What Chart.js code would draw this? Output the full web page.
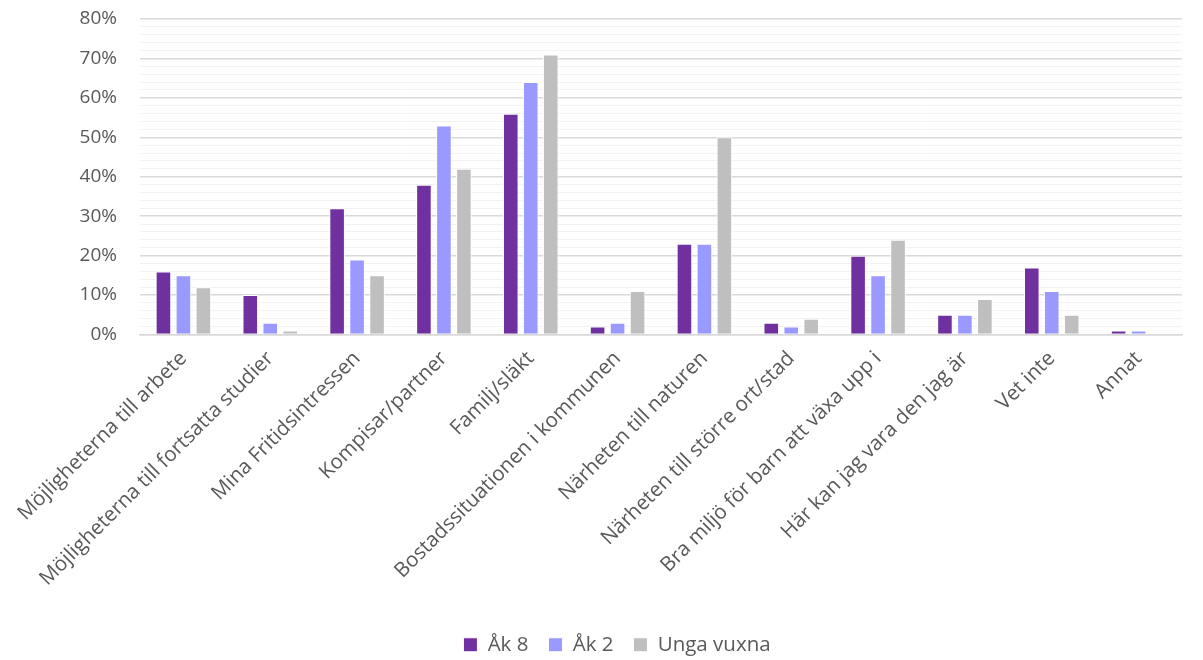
<!DOCTYPE html>
<html>
<head>
<meta charset="utf-8">
<script src="https://cdn.jsdelivr.net/npm/chart.js@4"></script>
<style>
    html, body { margin: 0; padding: 0; background: #fff; }
    #wrap { width: 1203px; height: 660px; position: relative; }
</style>
</head>
<body>
<div id="wrap"><canvas id="chart"></canvas></div>
<script>
// Categories (x axis)
const categories = [
    'Möjligheterna till arbete',
    'Möjligheterna till fortsatta studier',
    'Mina Fritidsintressen',
    'Kompisar/partner',
    'Familj/släkt',
    'Bostadssituationen i kommunen',
    'Närheten till naturen',
    'Närheten till större ort/stad',
    'Bra miljö för barn att växa upp i',
    'Här kan jag vara den jag är',
    'Vet inte',
    'Annat'
];

// Series values in percent
const ak8 = [16, 10, 32, 38, 56, 2, 23, 3, 20, 5, 17, 1];
const ak2 = [15, 3, 19, 53, 64, 3, 23, 2, 15, 5, 11, 1];
const ungaVuxna = [12, 1, 15, 42, 71, 11, 50, 4, 24, 9, 5, 0];

const seriesNames = ['Åk 8', 'Åk 2', 'Unga vuxna'];
const seriesColors = ['#7030A0', '#9999FF', '#BFBFBF'];

// Y axis: 0-80 %, labels every 10, minor gridlines every 2
const yMax = 80;
const yStep = 2;
const yLabelEvery = 10;

const FONT = '"Open Sans", sans-serif';
const TEXT_COLOR = '#595959';

function makeDataset(label, data, color) {
    return {
        label: label,
        data: data,
        backgroundColor: color,
        borderColor: '#ffffff',
        borderWidth: 1,
        categoryPercentage: 0.69,
        barPercentage: 0.78
    };
}

// nudge the legend a bit to the right, like the original
const legendShift = {
    id: 'legendShift',
    afterLayout(chart) {
        if (chart.legend) {
            chart.legend.left += 52;
        }
    }
};

const ctx = document.getElementById('chart').getContext('2d');
new Chart(ctx, {
    type: 'bar',
    data: {
        labels: categories,
        datasets: [
            makeDataset(seriesNames[0], ak8, seriesColors[0]),
            makeDataset(seriesNames[1], ak2, seriesColors[1]),
            makeDataset(seriesNames[2], ungaVuxna, seriesColors[2])
        ]
    },
    plugins: [legendShift],
    options: {
        responsive: true,
        maintainAspectRatio: false,
        animation: false,
        layout: {
            padding: { top: 0, right: 21, bottom: -5, left: 0 }
        },
        plugins: {
            legend: {
                position: 'bottom',
                labels: {
                    boxWidth: 14,
                    boxHeight: 14,
                    padding: 20,
                    color: TEXT_COLOR,
                    font: { family: FONT, size: 20.5 }
                }
            },
            tooltip: { enabled: false }
        },
        scales: {
            x: {
                grid: { display: false },
                border: { color: '#D9D9D9', width: 1.5 },
                afterFit: function(scale) {
                    scale.height = 280;
                },
                ticks: {
                    autoSkip: false,
                    minRotation: 45,
                    maxRotation: 45,
                    padding: 4,
                    color: TEXT_COLOR,
                    font: { family: FONT, size: 20.5 }
                }
            },
            y: {
                min: 0,
                max: yMax,
                border: { display: false },
                afterFit: function(scale) {
                    scale.width = 140;
                    scale.paddingTop = 19;
                    scale.paddingBottom = 11;
                },
                grid: {
                    drawTicks: false,
                    lineWidth: function(c) {
                        return c.tick && c.tick.value % yLabelEvery === 0 ? 1.5 : 1;
                    },
                    color: function(c) {
                        return c.tick && c.tick.value % yLabelEvery === 0 ? '#D9D9D9' : '#F2F2F2';
                    }
                },
                ticks: {
                    stepSize: yStep,
                    autoSkip: false,
                    maxTicksLimit: 100,
                    padding: 23,
                    color: TEXT_COLOR,
                    font: { family: FONT, size: 19 },
                    callback: function(v) {
                        return v % yLabelEvery === 0 ? v + '%' : '';
                    }
                }
            }
        }
    }
});
</script>
</body>
</html>
